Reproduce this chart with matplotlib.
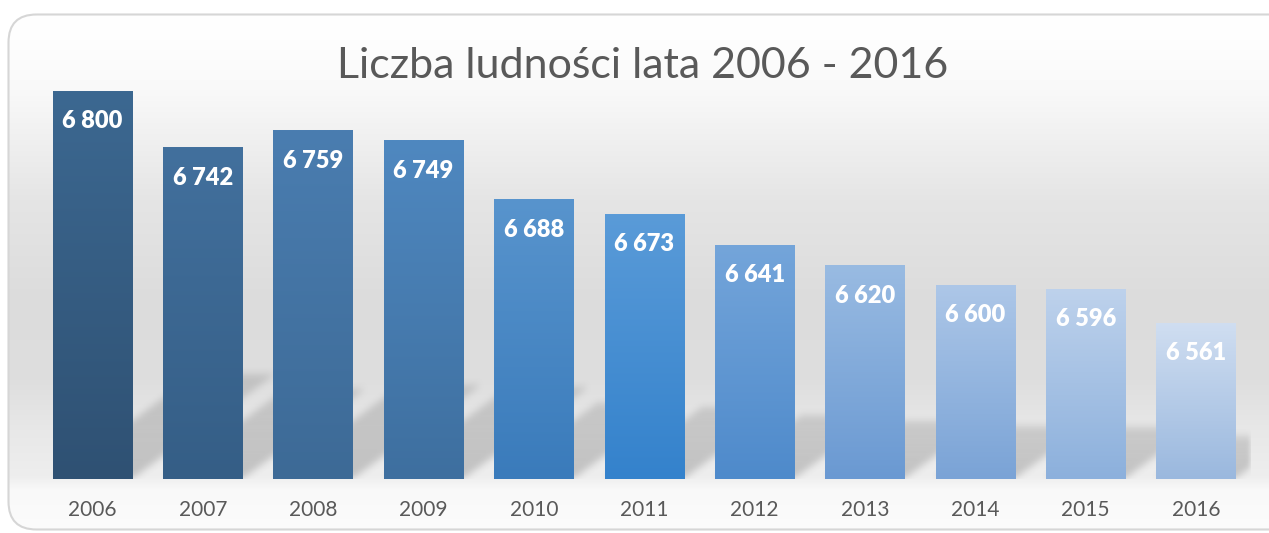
import matplotlib.pyplot as plt
import numpy as np
from matplotlib.colors import to_rgb
from matplotlib.patches import FancyBboxPatch

years = ['2006', '2007', '2008', '2009', '2010', '2011',
         '2012', '2013', '2014', '2015', '2016']
population = [6800, 6742, 6759, 6749, 6688, 6673, 6641, 6620, 6600, 6596, 6561]

title = 'Liczba ludności lata 2006 - 2016'

# kolory słupków: góra / dół gradientu
bar_top = ['#3c6891', '#42709d', '#4a7db0', '#4f88c0', '#5894cd', '#5a9bd8',
           '#74a5da', '#99bbe2', '#adc7e8', '#bed2ec', '#d0def1']
bar_bottom = ['#2f5173', '#355e86', '#3d6a96', '#3e6f9f', '#3a7bbb', '#3482cc',
              '#4e8acb', '#6a99d2', '#7aa3d6', '#8cb0dc', '#9ab8de']

Y_MIN, Y_MAX = 6400, 6850
W, H = 1269, 533


def gradient_image(top, bottom, n=256):
    t = np.linspace(0, 1, n)[:, None]
    c0 = np.array(to_rgb(top))
    c1 = np.array(to_rgb(bottom))
    return (c0 * (1 - t) + c1 * t)[:, None, :].repeat(2, axis=1)


def box_blur(a, r, axis):
    k = np.ones(2 * r + 1) / (2 * r + 1)
    return np.apply_along_axis(lambda m: np.convolve(m, k, mode='same'), axis, a)


def draw_background(fig):
    bg = fig.add_axes([0, 0, 1, 1], zorder=-10)
    bg.set_xlim(0, W)
    bg.set_ylim(H, 0)
    bg.axis('off')

    # pionowy gradient tła (biały u góry, szary w środku, jasna "podłoga")
    stops_y = [0, 40, 90, 200, 300, 380, 430, 476, 490, 533]
    stops_v = [255, 254, 249, 229, 220, 222, 232, 238, 249, 252]
    rows = np.interp(np.arange(H), stops_y, stops_v) / 255.0
    img = np.repeat(rows[:, None], 4, axis=1)
    im = bg.imshow(np.dstack([img, img, img]), extent=(0, W, H, 0),
                   aspect='auto', interpolation='bilinear')

    frame = FancyBboxPatch((8.5, 14.5), W + 20, H - 18,
                           boxstyle='round,pad=0,rounding_size=28',
                           facecolor='none', edgecolor='#d6d6d6', linewidth=1.5)
    bg.add_patch(frame)
    im.set_clip_path(frame)


def draw_shadows(ax, x, heights, width):
    # cienie słupków padające skośnie w prawo, do tyłu
    nx, ny = 1214, 437
    gx = np.linspace(-0.5, 10.5, nx)
    gy = np.linspace(0, Y_MAX - Y_MIN, ny)
    X, Y = np.meshgrid(gx, gy)
    alpha = np.zeros_like(X)
    for xi, h in zip(x, heights):
        sh = 0.27 * h
        dx = 0.00325 * h
        f = Y / sh
        left = xi - width / 2 + f * dx
        right = xi + width / 2 + f * dx
        inside = (Y <= sh) & (X >= left) & (X <= right)
        alpha = np.maximum(alpha, np.where(inside, 1 - 0.3 * f, 0))
    for _ in range(2):
        alpha = box_blur(alpha, 4, 0)
        alpha = box_blur(alpha, 3, 1)
    rgba = np.zeros((ny, nx, 4))
    rgba[..., :3] = 0.4
    rgba[..., 3] = 0.32 * alpha
    ax.imshow(rgba, extent=(-0.5, 10.5, Y_MIN, Y_MAX), origin='lower',
              aspect='auto', zorder=1, interpolation='bilinear')


def main():
    plt.rcParams['font.family'] = ['Lato', 'DejaVu Sans']
    fig = plt.figure(figsize=(W / 100, H / 100), dpi=100)
    draw_background(fig)

    ax = fig.add_axes([37.3 / W, 54.3 / H, 1213.9 / W, 436.5 / H])
    ax.set_facecolor('none')

    x = np.arange(len(years))
    heights = [v - Y_MIN for v in population]
    width = 0.72

    draw_shadows(ax, x, heights, width)

    bars = ax.bar(x, heights, width=width, bottom=Y_MIN, color='none', zorder=2)
    for bar, top, bottom in zip(bars, bar_top, bar_bottom):
        x0, y0 = bar.get_x(), bar.get_y()
        im = ax.imshow(gradient_image(top, bottom),
                       extent=(x0, x0 + bar.get_width(), y0, y0 + bar.get_height()),
                       aspect='auto', zorder=3, interpolation='bilinear')
        im.set_clip_path(bar)

    # etykiety wartości
    for xi, v in zip(x, population):
        label = f'{v:,}'.replace(',', ' ')
        ax.annotate(label, (xi, v), xytext=(0, -22), textcoords='offset points',
                    ha='center', va='center', color='white', fontsize=17,
                    fontweight='heavy', zorder=4)

    ax.set_xlim(-0.5, 10.5)
    ax.set_ylim(Y_MIN, Y_MAX)
    ax.set_xticks(x)
    ax.set_xticklabels(years, fontsize=15, color='#595959')
    ax.tick_params(axis='x', length=0, pad=15)
    ax.set_yticks([])
    for s in ax.spines.values():
        s.set_visible(False)

    fig.text(643 / W, 1 - 66 / H, title, ha='center', va='center',
             fontsize=31, color='#595959')

    fig.savefig('out.png', dpi=100)


if __name__ == "__main__":
    main()
